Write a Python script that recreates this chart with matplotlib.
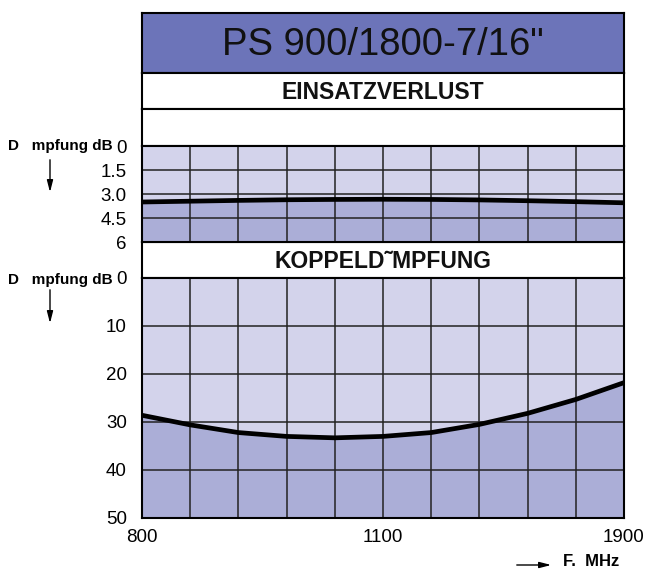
import matplotlib
matplotlib.use("Agg")
import matplotlib.pyplot as plt
import numpy as np

plt.rcParams["font.family"] = ["Liberation Sans", "DejaVu Sans"]

# Data (x = grid column 0..10)
columns = [0, 1, 2, 3, 4, 5, 6, 7, 8, 9, 10]
insertion_loss_db = [3.50, 3.45, 3.40, 3.36, 3.34, 3.33, 3.34, 3.37, 3.42, 3.48, 3.55]
coupling_loss_db = [28.6, 30.6, 32.2, 33.0, 33.3, 33.0, 32.2, 30.5, 28.2, 25.3, 21.8]
x_tick_pos = [0, 5, 10]
x_tick_labels = ["800", "1100", "1900"]
top_ticks = [0, 1.5, 3.0, 4.5, 6]
top_tick_labels = ["0", "1.5", "3.0", "4.5", "6"]
bot_ticks = [0, 10, 20, 30, 40, 50]
bot_tick_labels = ["0", "10", "20", "30", "40", "50"]

W, H = 646, 571
LIGHT = "#d3d3eb"
DARK = "#abaed7"
TITLE_BG = "#6c74b9"

fig = plt.figure(figsize=(W / 100, H / 100), dpi=100)


def box(x0, y0, x1, y1):
    # pixel box (top-left origin) -> figure coords
    return [x0 / W, 1 - y1 / H, (x1 - x0) / W, (y1 - y0) / H]


def band(y0, y1, color, text=None, size=12, weight="bold"):
    a = fig.add_axes(box(142, y0, 624, y1))
    a.set_facecolor(color)
    a.set_xticks([])
    a.set_yticks([])
    for s in a.spines.values():
        s.set_linewidth(1.5)
    if text:
        a.text(0.5, 0.47, text, ha="center", va="center", fontsize=size,
               fontweight=weight, color="#111111", transform=a.transAxes)
    return a


band(13, 73, TITLE_BG, 'PS 900/1800-7/16"', size=27.5, weight="normal")
band(73, 109, "white", "EINSATZVERLUST", size=16.5)
band(109, 146, "white")
band(242, 278, "white", "KOPPELD˜MPFUNG", size=16.5)


def grid_axes(y0, y1, values, ymax, ticks, labels, show_x):
    ax = fig.add_axes(box(142, y0, 624, y1))
    ax.set_facecolor(LIGHT)
    ax.fill_between(columns, values, ymax, color=DARK, lw=0, zorder=1)
    ax.set_xlim(0, 10)
    ax.set_ylim(ymax, 0)
    for c in columns[1:-1]:
        ax.axvline(c, color="#222222", lw=1.1, zorder=2)
    for t in ticks[1:-1]:
        ax.axhline(t, color="#222222", lw=1.1, zorder=2)
    ax.plot(columns, values, color="black", lw=3.4, zorder=3,
            solid_capstyle="butt")
    ax.set_yticks(ticks)
    ax.set_yticklabels(labels, fontsize=13.5)
    ax.tick_params(axis="y", length=0, pad=11)
    if show_x:
        ax.set_xticks(x_tick_pos)
        ax.set_xticklabels(x_tick_labels, fontsize=13.5)
        ax.tick_params(axis="x", length=0, pad=8)
    else:
        ax.set_xticks([])
    for s in ax.spines.values():
        s.set_linewidth(1.5)
    return ax


grid_axes(146, 242, insertion_loss_db, 6, top_ticks, top_tick_labels, False)
grid_axes(278, 518, coupling_loss_db, 50, bot_ticks, bot_tick_labels, True)

# axis captions
for yc in (146, 280):
    fig.text(8 / W, 1 - yc / H, "D   mpfung dB", fontsize=11, fontweight="bold",
             ha="left", va="center")

arrow = dict(arrowstyle="-|>,head_length=0.7,head_width=0.18", color="black", lw=1)
fig.add_artist(plt.Annotation("", xy=(50 / W, 1 - 195 / H), xytext=(50 / W, 1 - 157 / H),
                              xycoords="figure fraction", arrowprops=arrow))
fig.add_artist(plt.Annotation("", xy=(50 / W, 1 - 326 / H), xytext=(50 / W, 1 - 287 / H),
                              xycoords="figure fraction", arrowprops=arrow))
fig.add_artist(plt.Annotation("", xy=(554 / W, 1 - 565 / H), xytext=(514 / W, 1 - 565 / H),
                              xycoords="figure fraction", arrowprops=arrow))
fig.text(563 / W, 1 - 562 / H, "F.  MHz", fontsize=12, fontweight="bold",
         ha="left", va="center")

fig.savefig("out.png", dpi=100)
